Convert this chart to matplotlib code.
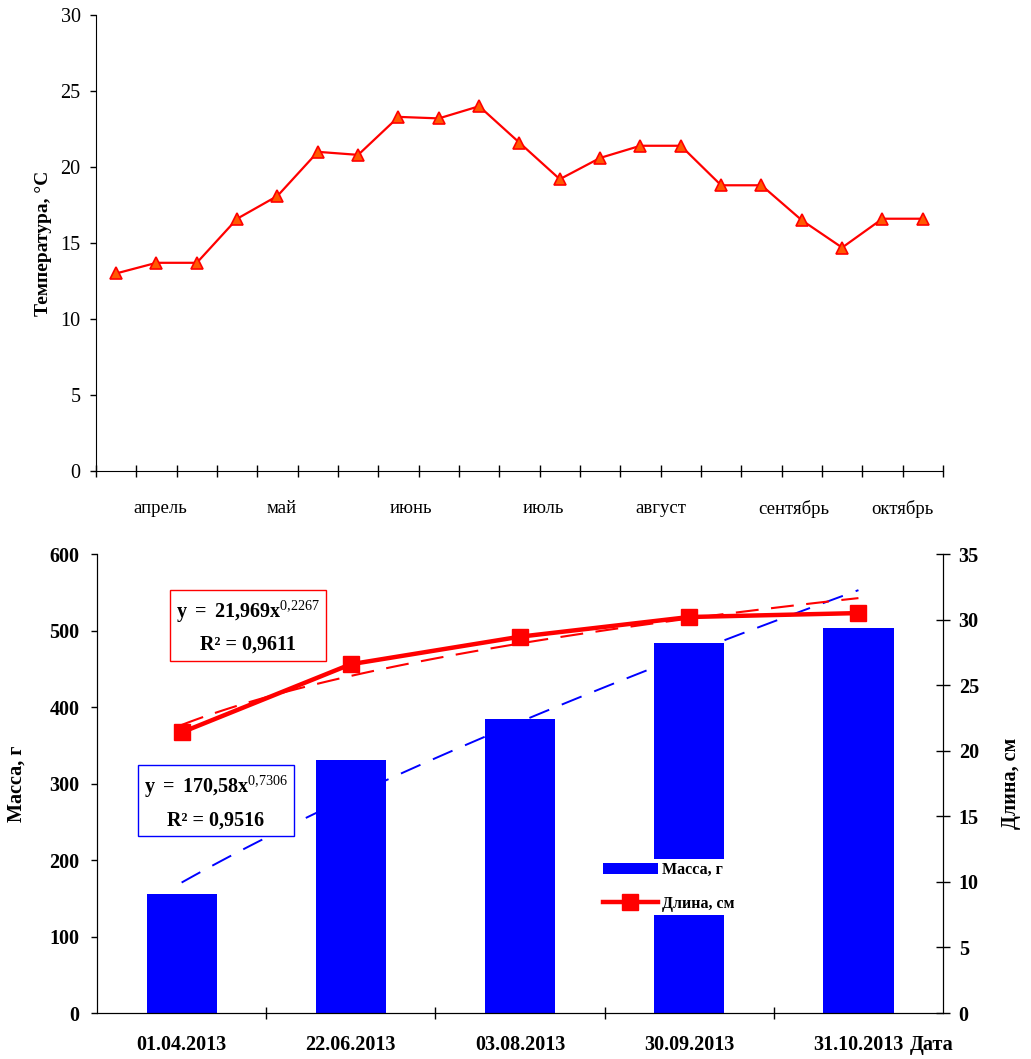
import numpy as np
import matplotlib.pyplot as plt

plt.rcParams['font.family'] = ['Liberation Serif', 'DejaVu Serif']
plt.rcParams['mathtext.fontset'] = 'custom'
plt.rcParams['mathtext.rm'] = 'Liberation Serif'
plt.rcParams['mathtext.bf'] = 'Liberation Serif:bold'

# температура по декадам
temp = [13.0, 13.7, 13.7, 16.6, 18.1, 21.0, 20.8, 23.3, 23.2, 24.0, 21.6,
        19.2, 20.6, 21.4, 21.4, 18.8, 18.8, 16.5, 14.7, 16.6, 16.6]
months = ['апрель', 'май', 'июнь', 'июль', 'август', 'сентябрь', 'октябрь']
month_pos = [1.1, 4.1, 7.3, 10.6, 13.5, 16.8, 19.5]

# масса и длина
dates = ['01.04.2013', '22.06.2013', '03.08.2013', '30.09.2013', '31.10.2013']
mass = [156, 331, 385, 484, 503]
length = [21.4, 26.6, 28.7, 30.2, 30.5]
mass_fit = (170.58, 0.7306)      # y = a*x^b
length_fit = (21.969, 0.2267)
mass_eq = ['170,58', '0,7306', '0,9516']
length_eq = ['21,969', '0,2267', '0,9611']

fig = plt.figure(figsize=(10.31, 10.59), dpi=100)

# ---- верхний график
ax1 = fig.add_axes([0.0931, 0.5552, 0.8215, 0.4306])
x = np.arange(len(temp))
ax1.plot(x, temp, color='red', lw=1.6, marker='^', ms=9,
         mfc='#ff5a00', mec='red', mew=1.2)
ax1.set_xlim(-0.5, len(temp) - 0.5)
ax1.set_ylim(0, 30)
ax1.set_yticks(range(0, 31, 5))
ax1.set_xticks(np.arange(-0.5, len(temp), 1))
ax1.set_xticklabels([])
ax1.tick_params(axis='x', direction='inout', length=8, width=1)
ax1.tick_params(axis='y', direction='out', length=4, width=1, pad=7, labelsize=14.5)
for s in ['top', 'right']:
    ax1.spines[s].set_visible(False)
for m, p in zip(months, month_pos):
    ax1.annotate(m, xy=(p, 0), xycoords=('data', 'axes fraction'),
                 xytext=(0, -27), textcoords='offset points',
                 ha='center', va='center', fontsize=13.5)
ax1.set_ylabel('Температура, °C', fontsize=14, fontweight='bold')
ax1.yaxis.set_label_coords(-0.052, 0.5)

# ---- нижний график
ax2 = fig.add_axes([0.0941, 0.0434, 0.8206, 0.4334])
xb = np.arange(len(dates))
bars = ax2.bar(xb, mass, width=0.415, color='blue', zorder=2)
ax2.set_xlim(-0.5, len(dates) - 0.5)
ax2.set_ylim(0, 600)
ax2.set_yticks(range(0, 601, 100))
ax2.set_xticks(xb)
ax2.set_xticklabels(dates, fontweight='bold', fontsize=14.5)
ax2.set_xticks(np.arange(0.5, len(dates) - 1, 1), minor=True)
ax2.tick_params(axis='x', which='major', length=0, pad=16)
ax2.tick_params(axis='x', which='minor', direction='inout', length=9, width=1)
ax2.tick_params(axis='y', direction='out', length=4.5, width=1, pad=8, labelsize=14.5)
for lab in ax2.get_yticklabels():
    lab.set_fontweight('bold')
ax2.spines['top'].set_visible(False)

xs = np.linspace(1, len(dates), 100)
ax2.plot(xs - 1, mass_fit[0] * xs ** mass_fit[1], color='blue', lw=1.4,
         ls=(0, (11, 7)), zorder=3)

ax3 = ax2.twinx()
line, = ax3.plot(xb, length, color='red', lw=3.2, marker='s', ms=11.5, zorder=4)
ax3.plot(xs - 1, length_fit[0] * xs ** length_fit[1], color='red', lw=1.5,
         ls=(0, (11, 6)), zorder=3)
ax3.set_ylim(0, 35)
ax3.set_yticks(range(0, 36, 5))
ax3.tick_params(axis='y', direction='inout', length=9.5, width=1, pad=6.5, labelsize=14.5)
for lab in ax3.get_yticklabels():
    lab.set_fontweight('bold')
ax3.spines['top'].set_visible(False)

ax2.set_ylabel('Масса, г', fontsize=14.5, fontweight='bold')
ax2.yaxis.set_label_coords(-0.083, 0.5)
ax3.set_ylabel('Длина, см', fontsize=14.5, fontweight='bold')
ax3.yaxis.set_label_coords(1.068, 0.5)

ax2.annotate('Дата', xy=(1, 0), xycoords='axes fraction', xytext=(-24, -16),
             textcoords='offset points', ha='left', va='top',
             fontsize=14.5, fontweight='bold')

leg = ax3.legend([bars, line], ['Масса, г', 'Длина, см'], loc='upper left',
                 bbox_to_anchor=(0.5946, 0.3355), frameon=True, facecolor='white',
                 edgecolor='none', framealpha=1, prop={'weight': 'bold', 'size': 11.5},
                 handlelength=3.4, handletextpad=0.25, labelspacing=1.1,
                 borderpad=0.2, borderaxespad=0)


def eq_text(coef, power, r2):
    top = r'$\mathbf{y}\:\mathbf{=}\:\mathbf{%s x}^{\mathrm{%s}}$' % (
        coef.replace(',', '{,}'), power.replace(',', '{,}'))
    return top + '\nR² = ' + r2


ax3.text(0.1785, 0.842, eq_text(*length_eq), transform=ax3.transAxes,
         ha='center', va='center', multialignment='center', fontsize=14.5,
         fontweight='bold', linespacing=1.65,
         bbox=dict(boxstyle='square,pad=0.3', fc='white', ec='red', lw=1), zorder=5)

ax3.text(0.1407, 0.46, eq_text(*mass_eq), transform=ax3.transAxes,
         ha='center', va='center', multialignment='center', fontsize=14.5,
         fontweight='bold', linespacing=1.65,
         bbox=dict(boxstyle='square,pad=0.3', fc='white', ec='blue', lw=1), zorder=5)

fig.savefig('out.png', dpi=100)
